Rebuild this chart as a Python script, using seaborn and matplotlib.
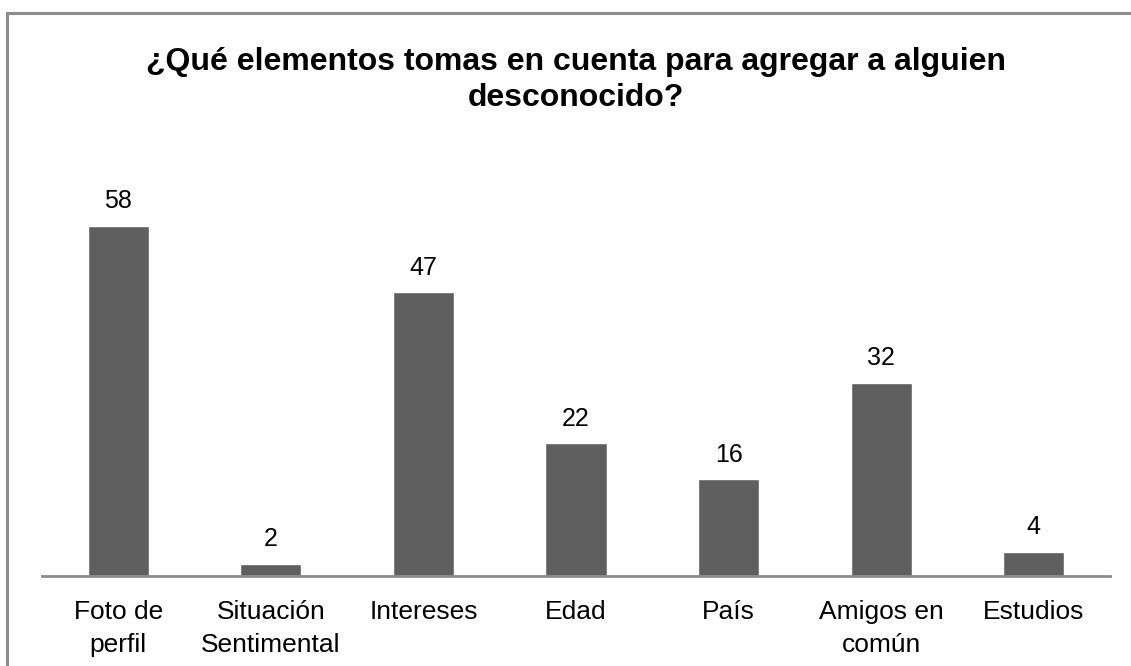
import matplotlib
matplotlib.use("Agg")
import matplotlib.pyplot as plt
import seaborn as sns
import pandas as pd
from matplotlib.patches import Rectangle

categorias = ["Foto de\nperfil", "Situación\nSentimental", "Intereses", "Edad",
              "País", "Amigos en\ncomún", "Estudios"]
valores = [58, 2, 47, 22, 16, 32, 4]
titulo = "¿Qué elementos tomas en cuenta para agregar a alguien\ndesconocido?"

sns.set_theme(style="white")
plt.rcParams["font.family"] = ["Liberation Sans", "DejaVu Sans"]

W, H, DPI = 1131, 666, 100
fig = plt.figure(figsize=(W / DPI, H / DPI), dpi=DPI)
fig.patch.set_facecolor("white")

# frame around the whole chart area
fig.add_artist(Rectangle((7 / W, -0.05), 1.2, (H - 13) / H + 0.05,
                         transform=fig.transFigure, fill=False,
                         edgecolor="#8c8c8c", linewidth=2.2))

# axes placement in pixels: left 42, right 1110, baseline 576
ymax = 70
px_per_unit = 350 / 58
ax_h = ymax * px_per_unit
ax = fig.add_axes([42 / W, (H - 576) / H, (1110 - 42) / W, ax_h / H])

df = pd.DataFrame({"categoria": categorias, "valor": valores})
sns.barplot(data=df, x="categoria", y="valor", color="#5f5f5f", saturation=1,
            width=0.4, ax=ax)

ax.set_ylim(0, ymax)
ax.set_xlim(-0.5, len(categorias) - 0.5)
ax.set_xlabel("")
ax.set_ylabel("")
ax.set_yticks([])
for s in ["top", "right", "left"]:
    ax.spines[s].set_visible(False)
ax.spines["bottom"].set_color("#8c8c8c")
ax.spines["bottom"].set_linewidth(2)
ax.tick_params(axis="x", length=0, pad=17, labelsize=19, colors="black")
for lbl in ax.get_xticklabels():
    lbl.set_linespacing(1.52)

for i, v in enumerate(valores):
    ax.annotate(str(v), (i, v), xytext=(0, 9), textcoords="offset points",
                ha="center", va="bottom", fontsize=18, color="black")

fig.text(576 / W, 1 - 80 / H, titulo, ha="center", va="center",
         fontsize=23, fontweight="bold", color="black", linespacing=1.3)

fig.savefig("out.png", dpi=DPI)
